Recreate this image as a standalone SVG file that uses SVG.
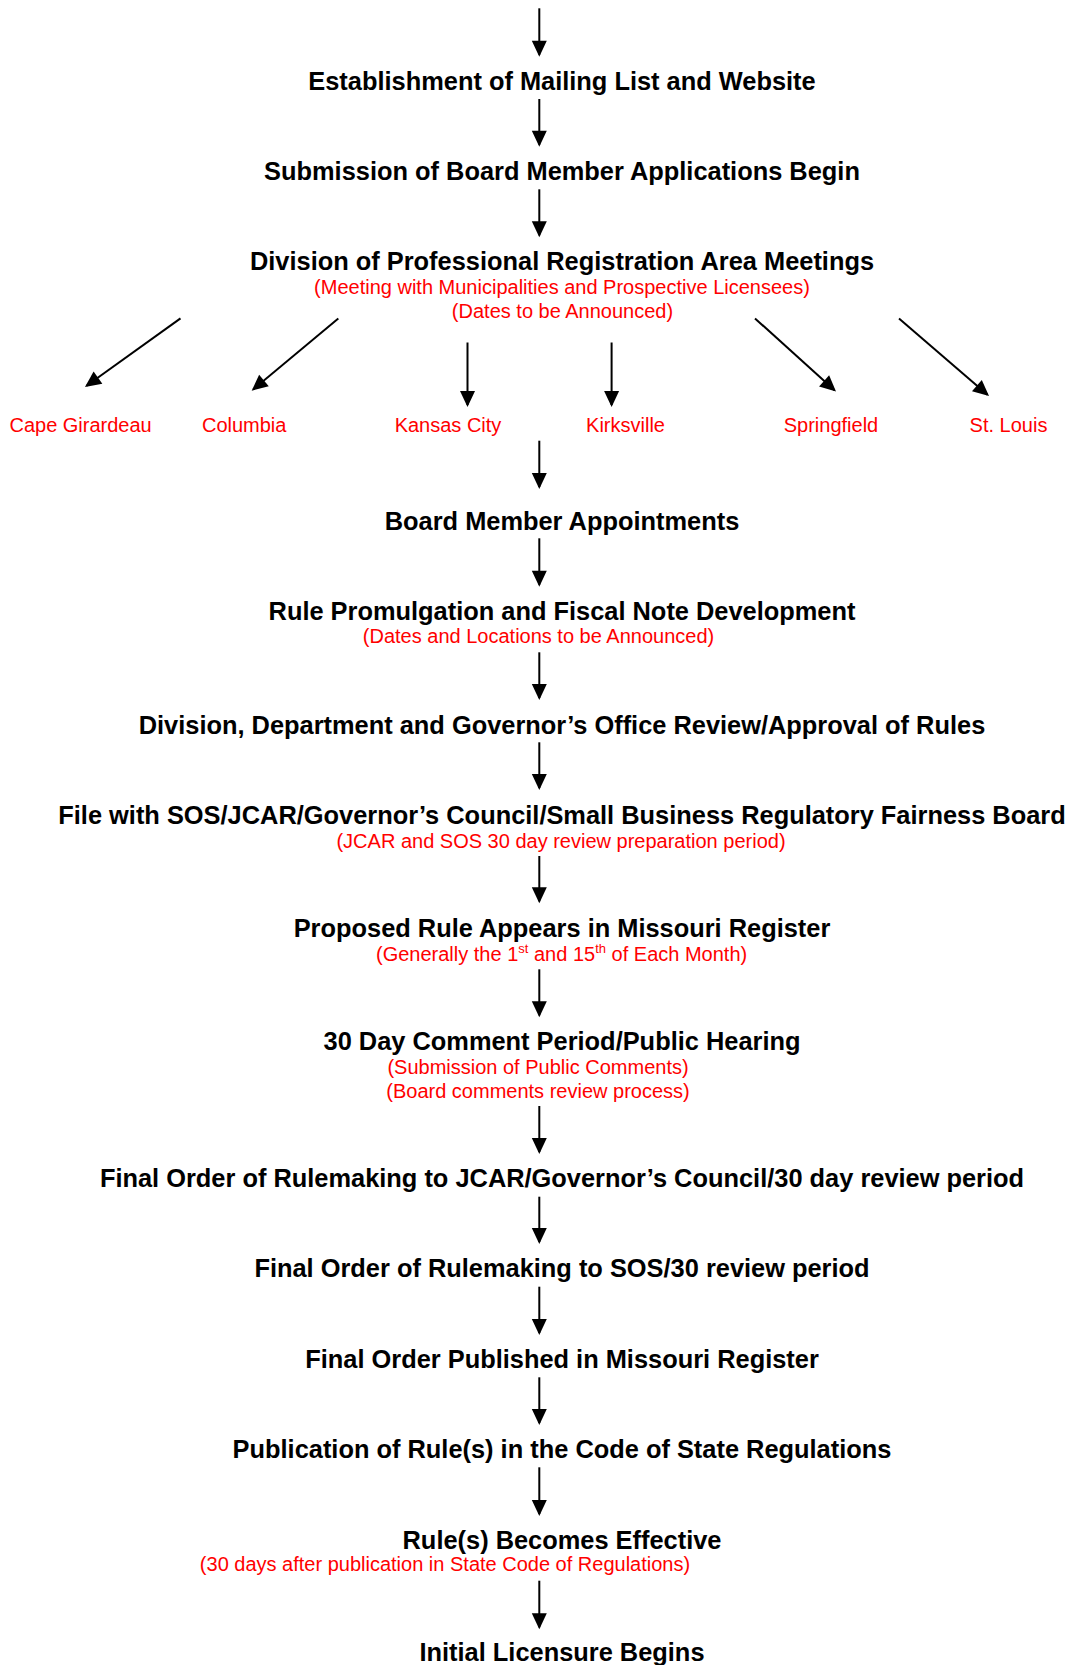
<svg xmlns="http://www.w3.org/2000/svg" width="1067" height="1665" viewBox="0 0 1067 1665">
<style>
.t{font-family:"Liberation Sans",Arial,sans-serif;font-weight:bold;font-size:25.4px;fill:#000;text-anchor:middle}
.r{font-family:"Liberation Sans",Arial,sans-serif;font-size:20px;fill:#ff0000;text-anchor:middle}
.c line{stroke:#000;stroke-width:2;marker-end:url(#ah)}
</style>
<defs>
<marker id="ah" markerUnits="userSpaceOnUse" markerWidth="16" markerHeight="15" refX="14" refY="7.5" orient="auto" viewBox="0 0 16 15" overflow="visible">
<path d="M0,0 L16,7.5 L0,15 z" fill="#000"/>
</marker>
</defs>
<rect width="1067" height="1665" fill="#fff"/>
<g id="connectors" class="c">
<line x1="539.3" y1="8.3" x2="539.3" y2="54.7"/>
<line x1="539.3" y1="99" x2="539.3" y2="144.7"/>
<line x1="539.3" y1="189.3" x2="539.3" y2="235.3"/>
<line x1="180.5" y1="318.4" x2="86.6" y2="385.8"/>
<line x1="338.3" y1="318.4" x2="253.2" y2="389.4"/>
<line x1="467.5" y1="342.5" x2="467.5" y2="405"/>
<line x1="611.6" y1="342.5" x2="611.6" y2="405"/>
<line x1="755" y1="318.4" x2="834.5" y2="390.2"/>
<line x1="899" y1="318.4" x2="987.5" y2="394.7"/>
<line x1="539.3" y1="440.7" x2="539.3" y2="487"/>
<line x1="539.3" y1="538.3" x2="539.3" y2="584.7"/>
<line x1="539.3" y1="652.3" x2="539.3" y2="698"/>
<line x1="539.3" y1="742.3" x2="539.3" y2="788"/>
<line x1="539.3" y1="856" x2="539.3" y2="901.3"/>
<line x1="539.3" y1="969.3" x2="539.3" y2="1015.3"/>
<line x1="539.3" y1="1106" x2="539.3" y2="1152"/>
<line x1="539.3" y1="1196.7" x2="539.3" y2="1242"/>
<line x1="539.3" y1="1286.7" x2="539.3" y2="1333"/>
<line x1="539.3" y1="1377.3" x2="539.3" y2="1423"/>
<line x1="539.3" y1="1467.3" x2="539.3" y2="1514"/>
<line x1="539.3" y1="1580.7" x2="539.3" y2="1627.3"/>
</g>
<g id="n-mailing"><text class="t" x="562" y="89.8">Establishment of Mailing List and Website</text></g>
<g id="n-applications"><text class="t" x="562" y="179.8">Submission of Board Member Applications Begin</text></g>
<g id="n-area-meetings">
<text class="t" x="562" y="269.8">Division of Professional Registration Area Meetings</text>
<text class="r" x="562" y="294.3">(Meeting with Municipalities and Prospective Licensees)</text>
<text class="r" x="562.5" y="317.5">(Dates to be Announced)</text>
</g>
<g id="n-cape"><text class="r" x="80.6" y="431.5">Cape Girardeau</text></g>
<g id="n-columbia"><text class="r" x="244.2" y="431.5">Columbia</text></g>
<g id="n-kansas"><text class="r" x="448" y="431.5">Kansas City</text></g>
<g id="n-kirksville"><text class="r" x="625.5" y="431.5">Kirksville</text></g>
<g id="n-springfield"><text class="r" x="831" y="431.5">Springfield</text></g>
<g id="n-stlouis"><text class="r" x="1008.5" y="431.5">St. Louis</text></g>
<g id="n-appointments"><text class="t" x="562" y="530">Board Member Appointments</text></g>
<g id="n-promulgation">
<text class="t" x="562" y="620.3">Rule Promulgation and Fiscal Note Development</text>
<text class="r" x="538.5" y="642.7">(Dates and Locations to be Announced)</text>
</g>
<g id="n-review"><text class="t" x="562" y="733.5">Division, Department and Governor’s Office Review/Approval of Rules</text></g>
<g id="n-file">
<text class="t" x="562" y="823.5">File with SOS/JCAR/Governor’s Council/Small Business Regulatory Fairness Board</text>
<text class="r" x="561" y="847.5">(JCAR and SOS 30 day review preparation period)</text>
</g>
<g id="n-proposed">
<text class="t" x="562" y="937">Proposed Rule Appears in Missouri Register</text>
<text class="r" x="561.6" y="961">(Generally the 1<tspan font-size="13" dy="-8">st</tspan><tspan dy="8"> and 15</tspan><tspan font-size="13" dy="-8">th</tspan><tspan dy="8"> of Each Month)</tspan></text>
</g>
<g id="n-comment">
<text class="t" x="562" y="1050.3">30 Day Comment Period/Public Hearing</text>
<text class="r" x="538" y="1074.3">(Submission of Public Comments)</text>
<text class="r" x="538" y="1097.5">(Board comments review process)</text>
</g>
<g id="n-final-jcar"><text class="t" x="562" y="1187">Final Order of Rulemaking to JCAR/Governor’s Council/30 day review period</text></g>
<g id="n-final-sos"><text class="t" x="562" y="1277">Final Order of Rulemaking to SOS/30 review period</text></g>
<g id="n-published"><text class="t" x="562" y="1368">Final Order Published in Missouri Register</text></g>
<g id="n-csr"><text class="t" x="562" y="1458">Publication of Rule(s) in the Code of State Regulations</text></g>
<g id="n-effective">
<text class="t" x="562" y="1548.8">Rule(s) Becomes Effective</text>
<text class="r" x="445" y="1571">(30 days after publication in State Code of Regulations)</text>
</g>
<g id="n-licensure"><text class="t" x="562" y="1661">Initial Licensure Begins</text></g>
</svg>
